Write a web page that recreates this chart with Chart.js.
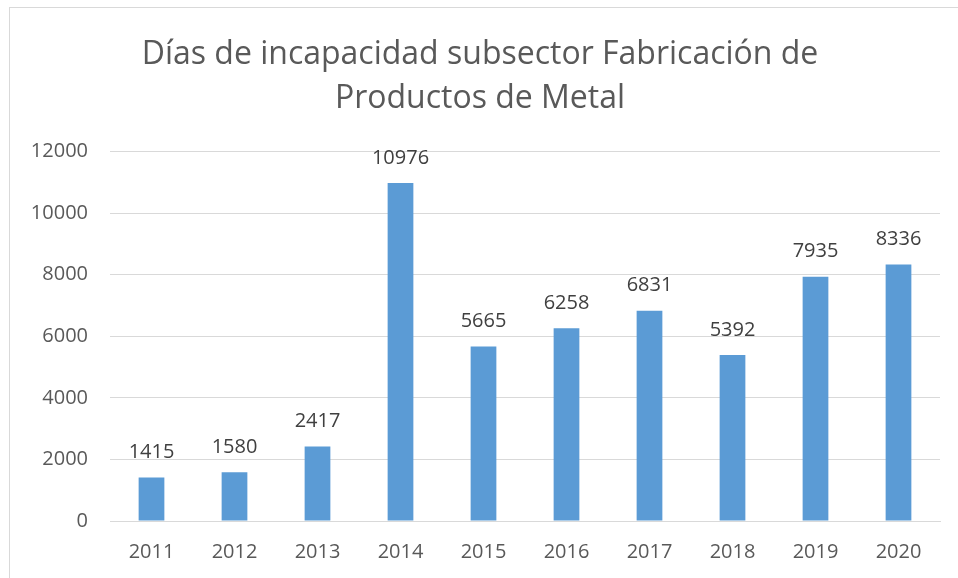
<!DOCTYPE html>
<html><head><meta charset="utf-8">
<script src="https://cdn.jsdelivr.net/npm/chart.js@4/dist/chart.umd.min.js"></script>
<style>
html,body{margin:0;padding:0;background:#fff;}
#wrap{position:relative;width:958px;height:578px;}
#frame{position:absolute;left:9px;top:7px;right:-2px;bottom:-2px;border-top:1px solid #d9d9d9;border-left:1px solid #d9d9d9;}
canvas{position:absolute;left:0;top:0;}
</style></head><body>
<div id="wrap"><div id="frame"></div><canvas id="c" width="958" height="578"></canvas></div>
<script>
const titleLines = ["Días de incapacidad subsector Fabricación de", "Productos de Metal"];
const years = ["2011","2012","2013","2014","2015","2016","2017","2018","2019","2020"];
const diasIncapacidad = [1415,1580,2417,10976,5665,6258,6831,5392,7935,8336];
const yTicks = [0,2000,4000,6000,8000,10000,12000];

const FONT = "'Open Sans', 'Liberation Sans', sans-serif";
const TXT = "#595959";

const labelPlugin = {
  id: 'valueLabels',
  afterDatasetsDraw(chart) {
    const ctx = chart.ctx;
    const meta = chart.getDatasetMeta(0);
    ctx.save();
    ctx.font = "20px " + FONT;
    ctx.fillStyle = "#404040";
    ctx.textAlign = "center";
    ctx.textBaseline = "middle";
    meta.data.forEach((bar, i) => {
      ctx.fillText(String(chart.data.datasets[0].data[i]), bar.x, bar.y - 25);
    });
    ctx.restore();
  }
};

new Chart(document.getElementById('c'), {
  type: 'bar',
  data: {
    labels: years,
    datasets: [{
      data: diasIncapacidad,
      backgroundColor: '#5b9bd5',
      borderWidth: 0,
      categoryPercentage: 1,
      barPercentage: 0.31
    }]
  },
  options: {
    responsive: false,
    animation: false,
    devicePixelRatio: 1,
    layout: { padding: { left: 20, right: 18, top: 32, bottom: 0 } },
    plugins: {
      legend: { display: false },
      tooltip: { enabled: false },
      title: {
        display: true,
        text: titleLines,
        color: TXT,
        font: { family: FONT, size: 32, weight: 'normal', lineHeight: 1.4 },
        padding: { top: 0, bottom: 30 }
      }
    },
    scales: {
      x: {
        afterFit(axis) { axis.height = 57; },
        grid: { display: false, drawTicks: false },
        border: { display: true, color: '#d9d9d9', width: 1 },
        ticks: { color: TXT, font: { family: FONT, size: 20 }, padding: 19 }
      },
      y: {
        min: 0, max: 12000,
        afterBuildTicks(axis) { axis.ticks = yTicks.map(v => ({ value: v })); },
        afterFit(axis) { axis.width = 90; },
        grid: { color: '#d9d9d9', lineWidth: 1, drawTicks: false },
        border: { display: false },
        ticks: { color: TXT, font: { family: FONT, size: 20 }, padding: 22, callback: v => String(v) }
      }
    }
  },
  plugins: [labelPlugin]
});
</script>
</body></html>
